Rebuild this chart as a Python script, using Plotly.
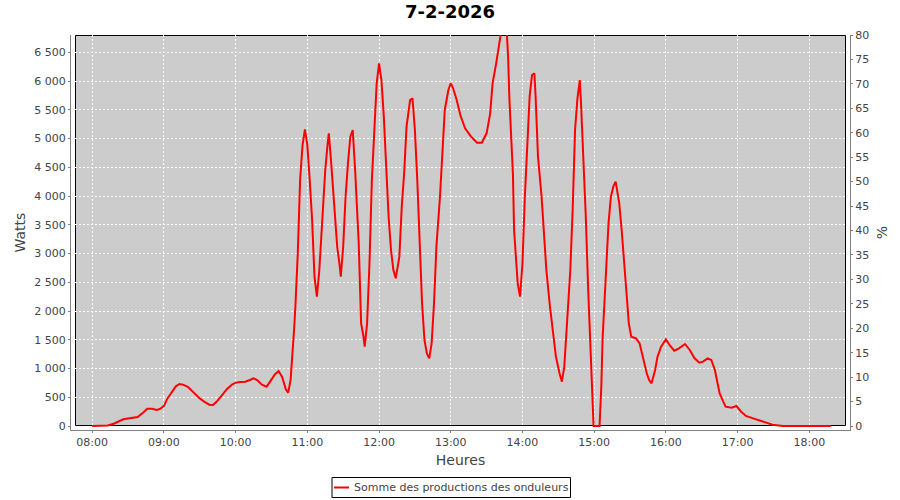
import plotly.graph_objects as go

DAY = "2026-02-07"
TITLE = "7-2-2026"
SERIES_NAME = "Somme des productions des onduleurs"

TIMES = [
    "08:00", "08:05", "08:10", "08:13", "08:18", "08:22", "08:26", "08:30", "08:34", "08:38",
    "08:42", "08:46", "08:50", "08:54", "08:57", "09:00", "09:03", "09:06", "09:10", "09:13",
    "09:16", "09:20", "09:25", "09:30", "09:34", "09:38", "09:41", "09:44", "09:48", "09:53",
    "09:57", "10:00", "10:04", "10:08", "10:12", "10:15", "10:18", "10:22", "10:26", "10:30",
    "10:33", "10:36", "10:39", "10:42", "10:44", "10:46", "10:47", "10:49", "10:50", "10:52",
    "10:54", "10:56", "10:58", "11:00", "11:02", "11:04", "11:06", "11:08", "11:10", "11:13",
    "11:15", "11:17", "11:18", "11:20", "11:23", "11:25", "11:27", "11:28", "11:30", "11:32",
    "11:34", "11:36", "11:38", "11:40", "11:43", "11:45", "11:47", "11:48", "11:50", "11:52",
    "11:54", "11:56", "11:58", "12:00", "12:02", "12:04", "12:06", "12:08", "12:10", "12:12",
    "12:14", "12:17", "12:19", "12:21", "12:23", "12:26", "12:28", "12:30", "12:32", "12:34",
    "12:36", "12:38", "12:40", "12:42", "12:44", "12:46", "12:48", "12:51", "12:53", "12:55",
    "12:58", "13:00", "13:02", "13:05", "13:08", "13:12", "13:17", "13:22", "13:26", "13:30",
    "13:33", "13:35", "13:38", "13:41", "13:44", "13:47", "13:48", "13:49", "13:51", "13:52",
    "13:53", "13:55", "13:56", "13:58", "14:00", "14:02", "14:04", "14:06", "14:08", "14:10",
    "14:11", "14:13", "14:16", "14:18", "14:20", "14:23", "14:25", "14:28", "14:31", "14:33",
    "14:35", "14:38", "14:40", "14:42", "14:44", "14:46", "14:48", "14:49", "14:51", "14:53",
    "14:55", "14:57", "14:58:30", "14:59:30", "15:04:30", "15:06", "15:07", "15:09", "15:11", "15:12",
    "15:14", "15:16", "15:18", "15:21", "15:23", "15:25", "15:27", "15:29", "15:31", "15:35",
    "15:38", "15:41", "15:44", "15:46", "15:48", "15:51", "15:53", "15:56", "16:00", "16:03",
    "16:07", "16:11", "16:16", "16:20", "16:24", "16:28", "16:31", "16:35", "16:38", "16:41",
    "16:43", "16:45", "16:48", "16:50", "16:55", "16:59", "17:03", "17:07", "17:13", "17:18",
    "17:24", "17:29", "17:35", "17:38", "18:18",
]

WATTS = [
    0, 0, 0, 10, 40, 80, 116, 130, 140, 155,
    220, 300, 300, 280, 300, 350, 480, 580, 690, 730,
    720, 680, 580, 480, 420, 370, 365, 420, 520, 650,
    720, 754, 765, 771, 800, 829, 800, 720, 684, 800,
    900, 956, 850, 640, 580, 800, 1060, 1700, 2075, 3000,
    4300, 4887, 5159, 4887, 4278, 3583, 2597, 2249, 2700, 3756,
    4452, 4916, 5090, 4568, 3756, 3119, 2800, 2597, 3119, 3988,
    4568, 5032, 5148, 4452, 3177, 1785, 1554, 1380, 1785, 2829,
    4278, 5200, 5950, 6307, 6017, 5380, 4394, 3640, 3061, 2713,
    2568, 2945, 3814, 4394, 5206, 5669, 5698, 5148, 4278, 3293,
    2133, 1496, 1264, 1177, 1438, 2133, 3119, 3988, 4800, 5496,
    5843, 5959, 5872, 5669, 5409, 5177, 5032, 4927, 4927, 5090,
    5438, 5959, 6307, 6771, 7100, 6800, 6423, 5727, 4974, 4394,
    3409, 2887, 2481, 2249, 2829, 3988, 4858, 5727, 6104, 6133,
    5727, 4684, 3988, 3293, 2713, 2075, 1727, 1206, 916, 771,
    1032, 1959, 2700, 3756, 5148, 5700, 6017, 5612, 4684, 3640,
    2365, 1322, 400, 0, 0, 700, 1496, 2423, 3119, 3525,
    3988, 4162, 4249, 3872, 3409, 2829, 2307, 1785, 1554, 1525,
    1438, 1148, 916, 800, 742, 974, 1206, 1380, 1507, 1409,
    1310, 1351, 1426, 1322, 1177, 1101, 1119, 1177, 1148, 974,
    742, 568, 423, 336, 319, 348, 249, 174, 133, 93,
    58, 23, 6, 0, 0,
]

HOUR_TICKS = ["08:00", "09:00", "10:00", "11:00", "12:00", "13:00",
              "14:00", "15:00", "16:00", "17:00", "18:00"]
WATT_TICKS = list(range(0, 7000, 500))
WATT_TICK_LABELS = ["0", "500", "1 000", "1 500", "2 000", "2 500", "3 000",
                    "3 500", "4 000", "4 500", "5 000", "5 500", "6 000", "6 500"]
PCT_TICKS = list(range(0, 85, 5))
PCT_TICK_LABELS = [str(v) for v in PCT_TICKS]

X_RANGE = [f"{DAY} 07:42:16", f"{DAY} 18:34:03"]
W_RANGE = [-69.6, 6800]
PCT_RANGE = [-0.818, 80]

FONT = "DejaVu Sans"
AXIS_GREY = "#808080"
TEXT_GREY = "#444444"

x = [f"{DAY} {t}" for t in TIMES]

fig = go.Figure()
fig.add_trace(go.Scatter(
    x=x, y=WATTS, mode="lines", name=SERIES_NAME,
    line=dict(color="#ff0000", width=2), showlegend=False,
))

# plot area pixels: x 71..850, y 35..430 ; inner grey frame 75..846, 35..426
L, R, T, B = 71, 850, 35, 430
W_PX, H_PX = R - L, B - T
def px(xp):
    return (xp - L) / W_PX
def py(yp):
    return (B - yp) / H_PX

shapes = [
    dict(type="rect", xref="paper", yref="paper", x0=px(75), x1=px(846), y0=py(426), y1=1,
         fillcolor="#cccccc", line=dict(width=0), layer="below"),
    dict(type="rect", xref="paper", yref="paper", x0=px(75.5), x1=px(845.5), y0=py(425.5), y1=py(35.5),
         fillcolor="rgba(0,0,0,0)", line=dict(color="#000000", width=1), layer="between"),
    # legend box
    dict(type="rect", xref="paper", yref="paper", x0=px(332), x1=px(570.5), y0=py(477.5), y1=py(497.5),
         fillcolor="#ffffff", line=dict(color="#000000", width=1), layer="above"),
    dict(type="line", xref="paper", yref="paper", x0=px(334), x1=px(349), y0=py(487.5), y1=py(487.5),
         line=dict(color="#ff0000", width=2), layer="above"),
]

fig.update_layout(
    width=900, height=500,
    margin=dict(l=L, r=900 - R, t=T, b=500 - B, pad=0),
    paper_bgcolor="#ffffff", plot_bgcolor="#ffffff",
    font=dict(family=FONT, size=11, color=TEXT_GREY),
    title=dict(text=f"<b>{TITLE}</b>", x=0.5, xref="container", xanchor="center",
               y=1 - 12 / 500, yref="container", yanchor="middle",
               font=dict(family=FONT, size=18, color="#000000")),
    shapes=shapes,
    annotations=[dict(text=SERIES_NAME, xref="paper", yref="paper", x=px(352), y=py(487.5),
                      xanchor="left", yanchor="middle", showarrow=False,
                      font=dict(family=FONT, size=11, color=TEXT_GREY))],
    showlegend=False,
)

fig.update_xaxes(
    type="date", range=X_RANGE,
    tickvals=[f"{DAY} {t}" for t in HOUR_TICKS], ticktext=HOUR_TICKS,
    showgrid=True, gridcolor="#ffffff", griddash="2px,2px", gridwidth=1,
    zeroline=False, showline=True, linecolor=AXIS_GREY, linewidth=1,
    ticks="outside", ticklen=2, tickcolor=AXIS_GREY,
    tickfont=dict(family=FONT, size=11, color=TEXT_GREY),
    title=dict(text="Heures", standoff=6, font=dict(family=FONT, size=14, color=TEXT_GREY)),
)
fig.update_yaxes(
    range=W_RANGE, tickvals=WATT_TICKS, ticktext=WATT_TICK_LABELS,
    showgrid=True, gridcolor="#ffffff", griddash="2px,2px", gridwidth=1,
    zeroline=False, showline=True, linecolor=AXIS_GREY, linewidth=1,
    ticks="outside", ticklen=2, tickcolor=AXIS_GREY,
    tickfont=dict(family=FONT, size=11, color=TEXT_GREY),
    title=dict(text="Watts", standoff=5, font=dict(family=FONT, size=14, color=TEXT_GREY)),
)
fig.update_layout(yaxis2=dict(
    overlaying="y", side="right", range=PCT_RANGE,
    tickvals=PCT_TICKS, ticktext=PCT_TICK_LABELS,
    showgrid=False, zeroline=False, showline=True, linecolor=AXIS_GREY, linewidth=1,
    ticks="outside", ticklen=2, tickcolor=AXIS_GREY,
    tickfont=dict(family=FONT, size=11, color=TEXT_GREY),
    title=dict(text="%", standoff=8, font=dict(family=FONT, size=14, color=TEXT_GREY)),
))
fig.add_trace(go.Scatter(x=[x[0]], y=[None], yaxis="y2", showlegend=False, hoverinfo="skip"))

fig.write_html("out.html", config={"displayModeBar": False},
               post_script="document.body.style.margin='0';")
